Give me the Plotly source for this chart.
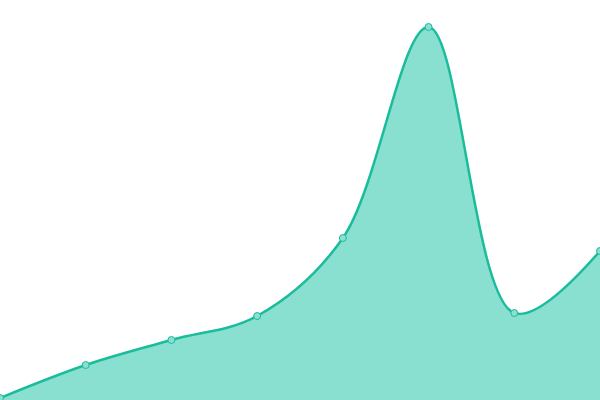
import plotly.graph_objects as go

x_vals = [0, 1, 2, 3, 4, 5, 6, 7]
y_vals = [2, 35, 60, 84, 162, 373, 87, 149]

fig = go.Figure(go.Scatter(
    x=x_vals,
    y=y_vals,
    mode="lines+markers",
    line=dict(color="#1abc9c", width=2.5, shape="spline", smoothing=1.0),
    fill="tozeroy",
    fillcolor="#8ae0d0",
    marker=dict(size=7, color="#8ae0d0", line=dict(color="#1abc9c", width=1)),
    cliponaxis=False,
))

fig.update_layout(
    width=600, height=400,
    margin=dict(l=0, r=0, t=0, b=0),
    plot_bgcolor="white", paper_bgcolor="white",
    showlegend=False,
    xaxis=dict(visible=False, range=[0, 7]),
    yaxis=dict(visible=False, range=[0, 400]),
)

# drop the default page margin so the plot sits flush in the window
fig.write_html(
    "out.html",
    config={"displayModeBar": False},
    post_script="document.body.style.margin='0';",
)
